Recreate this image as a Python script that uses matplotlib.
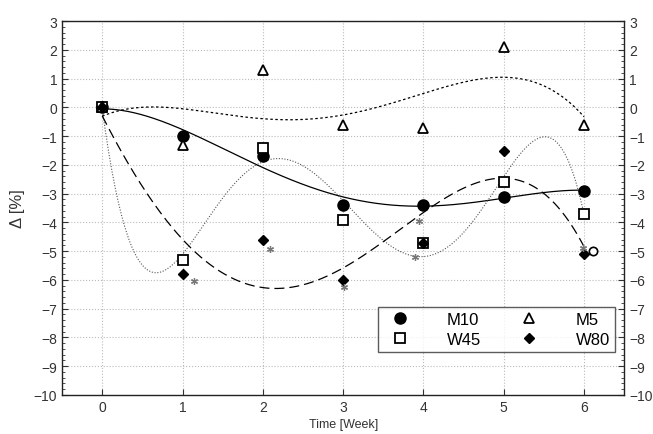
import matplotlib.pyplot as plt
import numpy as np
from matplotlib.ticker import MultipleLocator

plt.rcParams['font.family'] = ['Liberation Sans', 'DejaVu Sans']

weeks = [0, 1, 2, 3, 4, 5, 6]
m10 = [0, -1.0, -1.7, -3.4, -3.4, -3.1, -2.9]
m5 = [0, -1.3, 1.3, -0.6, -0.7, 2.1, -0.6]
w45 = [0, -5.3, -1.4, -3.9, -4.7, -2.6, -3.7]
w80 = [0, -5.8, -4.6, -6.0, -4.7, -1.5, -5.1]

# extra gray asterisks and the open "o" seen in the plot
star_x = [1.14, 2.09, 3.01, 3.95, 3.89, 5.99]
star_y = [-6.05, -4.92, -6.24, -3.94, -5.2, -4.88]
ring_x = [6.11]
ring_y = [-5.0]

fig = plt.figure(figsize=(6.53, 4.35), dpi=100)
ax = fig.add_axes([0.095, 0.09, 0.861, 0.859])

xs = np.linspace(0, 6, 300)


def fit(y, deg):
    return np.polyval(np.polyfit(weeks, y, deg), xs)


ax.plot(xs, fit(m10, 4), color='black', lw=0.9, ls='-')
ax.plot(xs, fit(m5, 4), color='black', lw=0.9, ls=(0, (2, 2)))
ax.plot(xs, fit(w45, 5), color='#555555', lw=0.8, ls=(0, (1, 1.5)))
ax.plot(xs, fit(w80, 4), color='black', lw=0.9, ls=(0, (8, 4)))

ax.plot(weeks, m10, 'o', color='black', ms=8, label='M10')
ax.plot(weeks, w45, 's', mfc='white', mec='black', mew=1.3, ms=7.5, label='W45')
ax.plot(weeks, m5, '^', mfc='white', mec='black', mew=1.3, ms=7, label='M5')
ax.plot(weeks, w80, 'D', color='black', ms=5.5, label='W80')

ax.plot(star_x, star_y, ls='none', marker=(6, 2, 0), color='#777777', ms=5, mew=0.9)
ax.plot(ring_x, ring_y, ls='none', marker='o', mfc='white', mec='black', mew=1.2, ms=6)

ax.set_xlim(-0.5, 6.5)
ax.set_ylim(-10, 3)
ax.set_xticks(weeks)
ax.yaxis.set_major_locator(MultipleLocator(1))
ax.yaxis.set_minor_locator(MultipleLocator(0.2))
ax.grid(True, which='major', color='#bbbbbb', ls=':', lw=0.8)
ax.tick_params(which='both', direction='in', right=True, labelright=True,
               labelsize=10, colors='#333333')
ax.tick_params(which='major', length=4)
ax.tick_params(which='minor', length=2)
for s in ax.spines.values():
    s.set_color('#222222')
    s.set_linewidth(1.0)

ax.set_xlabel('Time [Week]', fontsize=9, color='#333333', labelpad=3)
ax.set_ylabel('Δ [%]', fontsize=12, color='#333333', labelpad=6)

leg = ax.legend(ncol=2, loc='lower right', bbox_to_anchor=(0.984, 0.115),
                borderaxespad=0, fontsize=12, frameon=True, fancybox=False,
                edgecolor='#333333', handlelength=2.0, columnspacing=1.9,
                borderpad=0.3, labelspacing=0.3, handletextpad=1.8)
leg.get_frame().set_linewidth(1.0)

fig.savefig('out.png', dpi=100)
